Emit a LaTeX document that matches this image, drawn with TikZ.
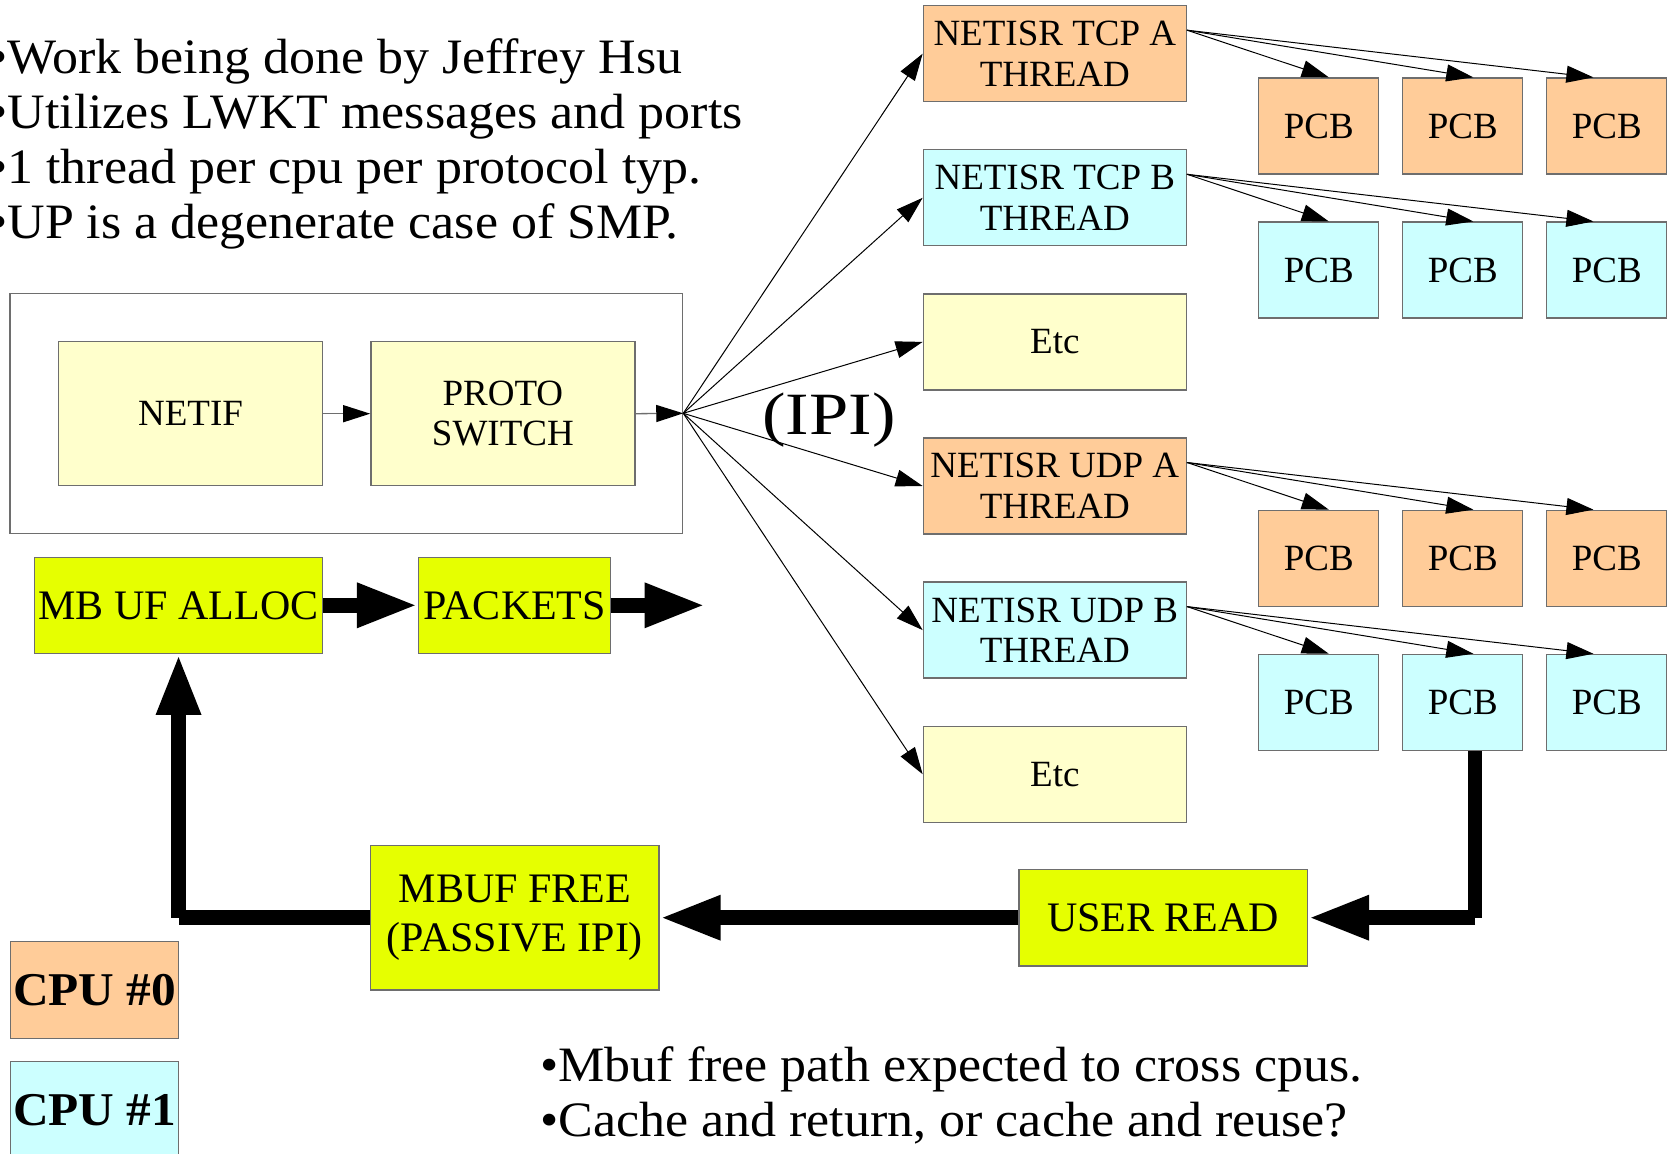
\documentclass[tikz,border=0pt]{standalone}
\usepackage{fontspec}
\setmainfont{Liberation Serif}
\newfontfamily\slidefont[FakeStretch=1.05]{Liberation Serif}
\usetikzlibrary{arrows.meta,calc}

\definecolor{peach}{HTML}{FFCC99}
\definecolor{aqua}{HTML}{CCFFFF}
\definecolor{cream}{HTML}{FFFFCC}
\definecolor{limey}{HTML}{E6FF00}
\definecolor{edgegray}{HTML}{6E6E6E}

\tikzset{
  box/.style={draw=edgegray, line width=0.65pt, inner sep=0pt, align=center,
              font=\fontsize{18.5}{20.3}\selectfont},
  bigbox/.style={box, fill=limey, font=\fontsize{21}{24.3}\selectfont},
  thread/.style={box, minimum width=131.5pt, minimum height=48pt},
  pcb/.style={box, minimum width=60pt, minimum height=48pt},
  fine/.style={line width=0.5pt, -{Triangle[length=13.5pt,width=8.5pt]}},
  grayarrow/.style={draw=edgegray, line width=0.65pt,
                    -{Triangle[length=13.5pt,width=8.5pt,color=black]}},
  fat/.style={line width=7.25pt},
  fatarrow/.style={fat, -{Triangle[length=30.5pt,width=20.5pt]}},
  bullets/.style={font=\slidefont\fontsize{24.75}{27.5}\selectfont,
                  inner sep=0pt, anchor=base west},
}

\begin{document}
\begin{tikzpicture}[x=0.5pt,y=-0.5pt]
\path[use as bounding box, fill=white] (0,0) rectangle (1674,1154);

% bullet notes
\node[bullets] (n1) at (-11,73.3)  {•Work being done by Jeffrey Hsu};
\node[bullets] (n2) at (-11,128.3) {•Utilizes LWKT messages and ports};
\node[bullets] (n3) at (-11,183.3) {•1 thread per cpu per protocol typ.};
\node[bullets] (n4) at (-11,238.3) {•UP is a degenerate case of SMP.};
\node[bullets] (m1) at (540,1081.7) {•Mbuf free path expected to cross cpus.};
\node[bullets] (m2) at (540,1136.7) {•Cache and return, or cache and reuse?};

% input side
\node[box, fill=white, minimum width=336.25pt, minimum height=120pt] (outer) at (346.35,413.3) {};
\node[box, fill=cream, minimum width=132.2pt, minimum height=72pt] (netif) at (190.5,413.7) {NETIF};
\node[box, fill=cream, minimum width=132pt, minimum height=72pt] (proto) at (502.85,413.7) {PROTO\\SWITCH};
\draw[grayarrow] (netif) -- (proto);
\draw[grayarrow] (proto.east) -- (outer.east);

% protocol threads
\node[thread, fill=peach] (tcpA) at (1054.8,53.7)  {NETISR TCP A\\THREAD};
\node[thread, fill=aqua]  (tcpB) at (1054.8,197.8) {NETISR TCP B\\THREAD};
\node[thread, fill=cream] (etcA) at (1054.8,341.9) {Etc};
\node[thread, fill=peach] (udpA) at (1054.8,486)   {NETISR UDP A\\THREAD};
\node[thread, fill=aqua]  (udpB) at (1054.8,630.1) {NETISR UDP B\\THREAD};
\node[thread, fill=cream] (etcB) at (1054.8,774.2) {Etc};

\foreach \t in {tcpA,tcpB,etcA,udpA,udpB,etcB}
  \draw[fine] (outer.east) -- (\t.west);

\node[font=\slidefont\fontsize{30}{30}\selectfont, anchor=base, inner sep=0pt] (ipi)
  at (829,435) {\scalebox{1.12}[1]{(IPI)}};

% protocol control blocks
\foreach \r/\y/\c in {a/126/peach, b/270.1/aqua, c/558.3/peach, d/702.4/aqua}
  \foreach \k/\x in {1/1318.8, 2/1462.7, 3/1606.7}
    \node[pcb, fill=\c] (pcb\r\k) at (\x,\y) {PCB};

\foreach \t/\r in {tcpA/a, tcpB/b, udpA/c, udpB/d} {
  \draw[fine] ($(\t.east)+(0,-23.5)$) -- ($(pcb\r1.north)+(10,0)$);
  \draw[fine] ($(\t.east)+(0,-23.5)$) -- ($(pcb\r2.north)+(10.6,0)$);
  \draw[fine] ($(\t.east)+(0,-23.5)$) -- ($(pcb\r3.north)+(-13.3,0)$);
}

% mbuf path
\node[bigbox, minimum width=144.15pt, minimum height=48pt] (alloc) at (178.55,605.3) {MB UF ALLOC};
\node[bigbox, minimum width=96pt, minimum height=48pt] (packets) at (514.55,605.3) {PACKETS};
\coordinate (out) at (705.5,605.3);
\draw[fatarrow] (alloc) -- (packets);
\draw[fatarrow] (packets.east) -- (out);

\node[bigbox, minimum width=144.15pt, minimum height=72.15pt] (free) at (514.85,917.7) {MBUF FREE\\(PASSIVE IPI)};
\node[bigbox, minimum width=144.2pt, minimum height=48.35pt] (user) at (1163.2,917.7) {USER READ};

\coordinate (drop) at (1475,917.7);
\draw[fat] (pcbd2.south -| drop) -- (drop);
\draw[fatarrow] (drop) -- (user.east);
\draw[fatarrow] (user.west) -- (free.east);
\coordinate (corner) at (alloc.south |- free.west);
\draw[fat] (free.west) -- (corner);
\draw[fatarrow] (corner) -- (alloc.south);

% cpu legend
\node[box, fill=peach, minimum width=84pt, minimum height=48.3pt,
      font=\slidefont\bfseries\fontsize{23.5}{26}\selectfont] (cpu0) at (94.65,990) {CPU \#0};
\node[box, fill=aqua, minimum width=84pt, minimum height=48.3pt,
      font=\slidefont\bfseries\fontsize{23.5}{26}\selectfont] (cpu1) at (94.65,1110) {CPU \#1};
\end{tikzpicture}
\end{document}
